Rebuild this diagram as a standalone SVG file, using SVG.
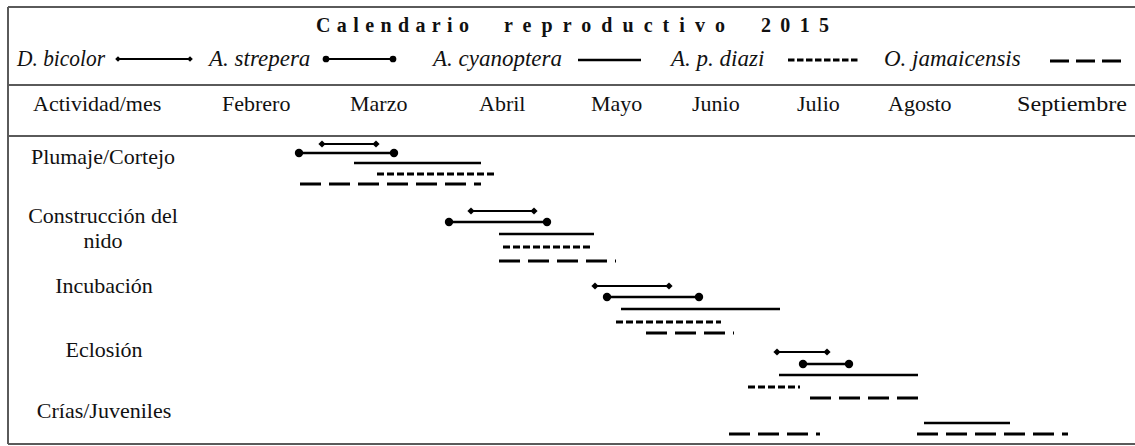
<svg xmlns="http://www.w3.org/2000/svg" width="1135" height="446" viewBox="0 0 1135 446">
<style>
.t{font-family:"Liberation Serif","Times New Roman",serif;font-size:22px;fill:#111}
.i{font-style:italic;font-size:23px}
.ti{font-family:"Liberation Serif","Times New Roman",serif;font-size:20px;font-weight:bold;fill:#111}
.fr{stroke:#5a5a5a;stroke-width:2;fill:none}
.b{stroke:#000;fill:none}
.s{stroke-width:2.5}
.d{stroke-width:3;stroke-dasharray:7 3}
.ld{stroke-width:3;stroke-dasharray:21 8}
.dia{stroke-width:2;marker-start:url(#dm);marker-end:url(#dm)}
.pt{stroke-width:2.5;marker-start:url(#pm);marker-end:url(#pm)}
.ldia{stroke-width:2;marker-start:url(#dml);marker-end:url(#dml)}
.lpt{stroke-width:2.2;marker-start:url(#pml);marker-end:url(#pml)}
</style>
<defs>
<marker id="dm" markerUnits="userSpaceOnUse" viewBox="0 0 10 10" refX="5" refY="5" markerWidth="9" markerHeight="9" orient="0"><path d="M1 5L5 1L9 5L5 9Z" fill="#000"/></marker>
<marker id="pm" markerUnits="userSpaceOnUse" viewBox="0 0 10 10" refX="5" refY="5" markerWidth="10" markerHeight="10" orient="0"><circle cx="5" cy="5" r="4.2" fill="#000"/></marker>
<marker id="dml" markerUnits="userSpaceOnUse" viewBox="0 0 10 10" refX="5" refY="5" markerWidth="7" markerHeight="7" orient="0"><path d="M1 5L5 1L9 5L5 9Z" fill="#000"/></marker>
<marker id="pml" markerUnits="userSpaceOnUse" viewBox="0 0 10 10" refX="5" refY="5" markerWidth="8" markerHeight="8" orient="0"><circle cx="5" cy="5" r="4.2" fill="#000"/></marker>
</defs>
<rect width="1135" height="446" fill="#fff"/>
<g id="frame" class="fr">
<path d="M8 7H1135M8 85H1135M8 136H1135M8 444H1135M8 7V444"/>
</g>
<g id="title">
<text class="ti" x="316" y="32" textLength="153" lengthAdjust="spacing">Calendario</text>
<text class="ti" x="504" y="32" textLength="221" lengthAdjust="spacing">reproductivo</text>
<text class="ti" x="761" y="32" textLength="68" lengthAdjust="spacing">2015</text>
</g>
<g id="legend">
<text class="t i" x="17" y="66" textLength="88" lengthAdjust="spacingAndGlyphs">D. bicolor</text>
<line class="b ldia" x1="118" y1="59" x2="190" y2="59"/>
<text class="t i" x="209" y="66">A. strepera</text>
<line class="b lpt" x1="326" y1="59" x2="393" y2="59"/>
<text class="t i" x="433" y="66">A. cyanoptera</text>
<line class="b s" x1="578" y1="60" x2="641" y2="60"/>
<text class="t i" x="671" y="66">A. p. diazi</text>
<line class="b" style="stroke-width:3;stroke-dasharray:6.5 2.5" x1="788" y1="60" x2="859" y2="60"/>
<text class="t i" x="884" y="66">O. jamaicensis</text>
<line class="b" style="stroke-width:3;stroke-dasharray:19 7" x1="1050" y1="61" x2="1121" y2="61"/>
</g>
<g id="header">
<text class="t" x="33" y="111">Actividad/mes</text>
<text class="t" x="222" y="111">Febrero</text>
<text class="t" x="350" y="111">Marzo</text>
<text class="t" x="479" y="111">Abril</text>
<text class="t" x="591" y="111">Mayo</text>
<text class="t" x="692" y="111">Junio</text>
<text class="t" x="797" y="111">Julio</text>
<text class="t" x="888" y="111">Agosto</text>
<text class="t" x="1017" y="111" textLength="110" lengthAdjust="spacingAndGlyphs">Septiembre</text>
</g>
<g id="row-plumaje">
<text class="t" x="103" y="164" text-anchor="middle">Plumaje/Cortejo</text>
<line class="b dia" x1="322" y1="144" x2="376" y2="144"/>
<line class="b pt" x1="299" y1="153" x2="394" y2="153"/>
<line class="b s" x1="354" y1="163" x2="481" y2="163"/>
<line class="b d" x1="377" y1="174" x2="497" y2="174"/>
<line class="b ld" x1="300" y1="184" x2="481" y2="184"/>
</g>
<g id="row-nido">
<text class="t" x="103" y="223" text-anchor="middle">Construcción del</text>
<text class="t" x="103" y="248" text-anchor="middle">nido</text>
<line class="b dia" x1="471" y1="211" x2="534" y2="211"/>
<line class="b pt" x1="449" y1="222" x2="547" y2="222"/>
<line class="b s" x1="499" y1="234" x2="594" y2="234"/>
<line class="b d" x1="503" y1="247" x2="591" y2="247"/>
<line class="b ld" x1="499" y1="261" x2="616" y2="261"/>
</g>
<g id="row-incubacion">
<text class="t" x="104" y="293" text-anchor="middle">Incubación</text>
<line class="b dia" x1="595" y1="286" x2="669" y2="286"/>
<line class="b pt" x1="607" y1="297" x2="699" y2="297"/>
<line class="b s" x1="621" y1="309" x2="780" y2="309"/>
<line class="b d" x1="616" y1="322" x2="721" y2="322"/>
<line class="b ld" x1="646" y1="333" x2="734" y2="333"/>
</g>
<g id="row-eclosion">
<text class="t" x="104" y="357" text-anchor="middle">Eclosión</text>
<line class="b dia" x1="777" y1="352" x2="827" y2="352"/>
<line class="b pt" x1="803" y1="364" x2="849" y2="364"/>
<line class="b s" x1="779" y1="375" x2="918" y2="375"/>
<line class="b d" x1="748" y1="387" x2="800" y2="387"/>
<line class="b ld" x1="810" y1="398" x2="918" y2="398"/>
</g>
<g id="row-crias">
<text class="t" x="104" y="418" text-anchor="middle">Crías/Juveniles</text>
<line class="b s" x1="924" y1="423" x2="1010" y2="423"/>
<line class="b ld" x1="729" y1="434" x2="820" y2="434"/>
<line class="b ld" x1="917" y1="434" x2="1068" y2="434"/>
</g>
</svg>
